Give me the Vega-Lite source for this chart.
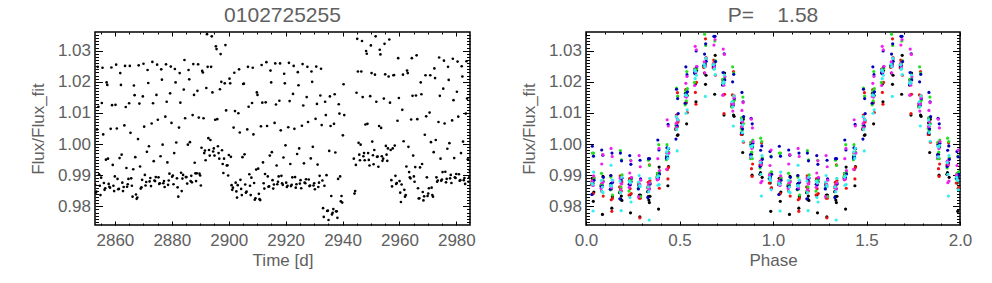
{
"$schema":"https://vega.github.io/schema/vega-lite/v6.json",
"background":"white",
"padding":{"left":28,"top":3,"right":5,"bottom":5},
"spacing":42,
"config":{
"view":{"stroke":"#000","strokeWidth":1.5},
"axis":{"domain":false,"grid":false,"labelFont":"Liberation Sans","labelFontSize":17,"labelColor":"#606060","titleFont":"Liberation Sans","titleFontSize":17,"titleFontWeight":"normal","titleColor":"#606060","tickColor":"#000","tickWidth":1,"labelFlush":false,"labelOverlap":false},
"title":{"font":"Liberation Sans","fontSize":21,"fontWeight":"normal","color":"#606060"}
},
"datasets":{"lc":[
{"t":2853.00,"p":0.030,"f":0.9870,"c":0},{"t":2853.24,"p":0.180,"f":0.9844,"c":0},{"t":2853.48,"p":0.330,"f":0.9847,"c":0},{"t":2853.72,"p":0.480,"f":1.0047,"c":0},{"t":2853.96,"p":0.630,"f":1.0248,"c":0},{"t":2854.20,"p":0.780,"f":1.0120,"c":0},{"t":2854.44,"p":0.930,"f":0.9903,"c":0},{"t":2854.68,"p":0.080,"f":0.9866,"c":1},{"t":2854.92,"p":0.230,"f":0.9836,"c":1},{"t":2855.16,"p":0.380,"f":0.9892,"c":1},{"t":2855.40,"p":0.530,"f":1.0132,"c":1},{"t":2855.64,"p":0.680,"f":1.0245,"c":1},{"t":2855.88,"p":0.830,"f":1.0031,"c":1},{"t":2856.12,"p":0.980,"f":0.9875,"c":1},{"t":2856.36,"p":0.130,"f":0.9853,"c":2},{"t":2856.60,"p":0.280,"f":0.9858,"c":2},{"t":2856.84,"p":0.430,"f":0.9950,"c":2},{"t":2857.08,"p":0.580,"f":1.0198,"c":2},{"t":2857.32,"p":0.730,"f":1.0190,"c":2},{"t":2857.56,"p":0.880,"f":0.9953,"c":2},
{"t":2857.80,"p":0.030,"f":0.9872,"c":1},{"t":2858.04,"p":0.180,"f":0.9863,"c":1},{"t":2858.28,"p":0.330,"f":0.9860,"c":1},{"t":2858.52,"p":0.480,"f":1.0049,"c":1},{"t":2858.76,"p":0.630,"f":1.0246,"c":1},{"t":2859.00,"p":0.780,"f":1.0125,"c":1},{"t":2859.24,"p":0.930,"f":0.9933,"c":1},{"t":2859.48,"p":0.080,"f":0.9866,"c":2},{"t":2859.72,"p":0.230,"f":0.9849,"c":2},{"t":2859.96,"p":0.380,"f":0.9896,"c":2},{"t":2860.20,"p":0.530,"f":1.0126,"c":2},{"t":2860.44,"p":0.680,"f":1.0255,"c":2},{"t":2860.68,"p":0.830,"f":1.0050,"c":2},{"t":2860.92,"p":0.980,"f":0.9888,"c":2},{"t":2861.16,"p":0.130,"f":0.9855,"c":3},{"t":2861.40,"p":0.280,"f":0.9856,"c":3},{"t":2861.64,"p":0.430,"f":0.9955,"c":3},{"t":2861.88,"p":0.580,"f":1.0228,"c":3},{"t":2862.12,"p":0.730,"f":1.0190,"c":3},{"t":2862.36,"p":0.880,"f":0.9966,"c":3},
{"t":2862.60,"p":0.031,"f":0.9876,"c":2},{"t":2862.84,"p":0.181,"f":0.9849,"c":2},{"t":2863.08,"p":0.331,"f":0.9862,"c":2},{"t":2863.32,"p":0.481,"f":1.0060,"c":2},{"t":2863.56,"p":0.631,"f":1.0251,"c":2},{"t":2863.80,"p":0.781,"f":1.0119,"c":2},{"t":2864.04,"p":0.931,"f":0.9923,"c":2},{"t":2864.28,"p":0.081,"f":0.9863,"c":3},{"t":2864.52,"p":0.231,"f":0.9871,"c":3},{"t":2864.76,"p":0.381,"f":0.9888,"c":3},{"t":2865.00,"p":0.531,"f":1.0131,"c":3},{"t":2865.24,"p":0.681,"f":1.0251,"c":3},{"t":2865.48,"p":0.831,"f":1.0036,"c":3},{"t":2865.72,"p":0.981,"f":0.9890,"c":3},{"t":2865.96,"p":0.131,"f":0.9866,"c":4},{"t":2866.20,"p":0.281,"f":0.9831,"c":4},{"t":2866.44,"p":0.431,"f":0.9919,"c":4},{"t":2866.68,"p":0.581,"f":1.0188,"c":4},{"t":2866.92,"p":0.731,"f":1.0157,"c":4},{"t":2867.16,"p":0.881,"f":0.9958,"c":4},
{"t":2867.40,"p":0.031,"f":0.9838,"c":3},{"t":2867.64,"p":0.181,"f":0.9824,"c":3},{"t":2867.88,"p":0.331,"f":0.9828,"c":3},{"t":2868.12,"p":0.481,"f":1.0016,"c":3},{"t":2868.36,"p":0.631,"f":1.0253,"c":3},{"t":2868.60,"p":0.781,"f":1.0130,"c":3},{"t":2868.84,"p":0.931,"f":0.9928,"c":3},{"t":2869.08,"p":0.081,"f":0.9857,"c":4},{"t":2869.32,"p":0.231,"f":0.9861,"c":4},{"t":2869.56,"p":0.381,"f":0.9885,"c":4},{"t":2869.80,"p":0.531,"f":1.0153,"c":4},{"t":2870.04,"p":0.681,"f":1.0258,"c":4},{"t":2870.28,"p":0.831,"f":1.0056,"c":4},{"t":2870.52,"p":0.981,"f":0.9901,"c":4},{"t":2870.76,"p":0.131,"f":0.9867,"c":5},{"t":2871.00,"p":0.281,"f":0.9878,"c":5},{"t":2871.24,"p":0.431,"f":0.9975,"c":5},{"t":2871.48,"p":0.581,"f":1.0238,"c":5},{"t":2871.72,"p":0.731,"f":1.0196,"c":5},{"t":2871.96,"p":0.881,"f":0.9993,"c":5},
{"t":2872.20,"p":0.032,"f":0.9880,"c":4},{"t":2872.44,"p":0.182,"f":0.9891,"c":4},{"t":2872.68,"p":0.332,"f":0.9865,"c":4},{"t":2872.92,"p":0.482,"f":1.0066,"c":4},{"t":2873.16,"p":0.632,"f":1.0264,"c":4},{"t":2873.40,"p":0.782,"f":1.0131,"c":4},{"t":2873.64,"p":0.932,"f":0.9945,"c":4},{"t":2873.88,"p":0.082,"f":0.9883,"c":5},{"t":2874.12,"p":0.232,"f":0.9881,"c":5},{"t":2874.36,"p":0.382,"f":0.9894,"c":5},{"t":2874.60,"p":0.532,"f":1.0158,"c":5},{"t":2874.84,"p":0.682,"f":1.0255,"c":5},{"t":2875.08,"p":0.832,"f":1.0078,"c":5},{"t":2875.32,"p":0.982,"f":0.9893,"c":5},{"t":2875.56,"p":0.132,"f":0.9872,"c":0},{"t":2875.80,"p":0.282,"f":0.9874,"c":0},{"t":2876.04,"p":0.432,"f":0.9961,"c":0},{"t":2876.28,"p":0.582,"f":1.0240,"c":0},{"t":2876.52,"p":0.732,"f":1.0207,"c":0},{"t":2876.76,"p":0.882,"f":0.9998,"c":0},
{"t":2877.00,"p":0.032,"f":0.9874,"c":5},{"t":2877.24,"p":0.182,"f":0.9881,"c":5},{"t":2877.48,"p":0.332,"f":0.9862,"c":5},{"t":2877.72,"p":0.482,"f":1.0088,"c":5},{"t":2877.96,"p":0.632,"f":1.0256,"c":5},{"t":2878.20,"p":0.782,"f":1.0136,"c":5},{"t":2878.44,"p":0.932,"f":0.9941,"c":5},{"t":2878.68,"p":0.082,"f":0.9869,"c":0},{"t":2878.92,"p":0.232,"f":0.9883,"c":0},{"t":2879.16,"p":0.382,"f":0.9905,"c":0},{"t":2879.40,"p":0.532,"f":1.0163,"c":0},{"t":2879.64,"p":0.682,"f":1.0249,"c":0},{"t":2879.88,"p":0.832,"f":1.0068,"c":0},{"t":2880.12,"p":0.982,"f":0.9895,"c":0},{"t":2880.36,"p":0.132,"f":0.9899,"c":1},{"t":2880.60,"p":0.282,"f":0.9871,"c":1},{"t":2880.84,"p":0.432,"f":0.9971,"c":1},{"t":2881.08,"p":0.582,"f":1.0241,"c":1},{"t":2881.32,"p":0.732,"f":1.0198,"c":1},{"t":2881.56,"p":0.882,"f":1.0005,"c":1},
{"t":2881.80,"p":0.033,"f":0.9890,"c":0},{"t":2882.04,"p":0.183,"f":0.9861,"c":0},{"t":2882.28,"p":0.333,"f":0.9831,"c":0},{"t":2882.52,"p":0.483,"f":1.0053,"c":0},{"t":2882.76,"p":0.633,"f":1.0228,"c":0},{"t":2883.00,"p":0.783,"f":1.0133,"c":0},{"t":2883.24,"p":0.933,"f":0.9908,"c":0},{"t":2883.48,"p":0.083,"f":0.9849,"c":1},{"t":2883.72,"p":0.233,"f":0.9889,"c":1},{"t":2883.96,"p":0.383,"f":0.9901,"c":1},{"t":2884.20,"p":0.533,"f":1.0175,"c":1},{"t":2884.44,"p":0.683,"f":1.0270,"c":1},{"t":2884.68,"p":0.833,"f":1.0083,"c":1},{"t":2884.92,"p":0.983,"f":0.9894,"c":1},{"t":2885.16,"p":0.133,"f":0.9894,"c":2},{"t":2885.40,"p":0.283,"f":0.9873,"c":2},{"t":2885.64,"p":0.433,"f":0.9998,"c":2},{"t":2885.88,"p":0.583,"f":1.0238,"c":2},{"t":2886.12,"p":0.733,"f":1.0208,"c":2},{"t":2886.36,"p":0.883,"f":1.0006,"c":2},
{"t":2886.60,"p":0.033,"f":0.9881,"c":1},{"t":2886.84,"p":0.183,"f":0.9898,"c":1},{"t":2887.08,"p":0.333,"f":0.9877,"c":1},{"t":2887.32,"p":0.483,"f":1.0093,"c":1},{"t":2887.56,"p":0.633,"f":1.0257,"c":1},{"t":2887.80,"p":0.783,"f":1.0158,"c":1},{"t":2888.04,"p":0.933,"f":0.9940,"c":1},{"t":2888.28,"p":0.083,"f":0.9906,"c":2},{"t":2888.52,"p":0.233,"f":0.9881,"c":2},{"t":2888.76,"p":0.383,"f":0.9906,"c":2},{"t":2889.00,"p":0.533,"f":1.0171,"c":2},{"t":2889.24,"p":0.683,"f":1.0256,"c":2},{"t":2889.48,"p":0.833,"f":1.0085,"c":2},{"t":2889.72,"p":0.983,"f":0.9905,"c":2},{"t":2889.96,"p":0.133,"f":0.9899,"c":3},{"t":2890.20,"p":0.283,"f":0.9867,"c":3},{"t":2890.44,"p":0.433,"f":0.9988,"c":3},{"t":2890.68,"p":0.583,"f":1.0235,"c":3},{"t":2890.92,"p":0.733,"f":1.0230,"c":3},{"t":2891.16,"p":0.883,"f":1.0083,"c":3},
{"t":2891.40,"p":0.034,"f":0.9971,"c":2},{"t":2891.64,"p":0.184,"f":0.9979,"c":2},{"t":2891.88,"p":0.334,"f":0.9948,"c":2},{"t":2892.12,"p":0.484,"f":1.0180,"c":2},{"t":2892.36,"p":0.634,"f":1.0353,"c":2},{"t":2892.60,"p":0.784,"f":1.0248,"c":2},{"t":2892.84,"p":0.934,"f":1.0019,"c":2},{"t":2893.08,"p":0.084,"f":0.9981,"c":3},{"t":2893.32,"p":0.234,"f":0.9963,"c":3},{"t":2893.56,"p":0.384,"f":1.0013,"c":3},{"t":2893.80,"p":0.534,"f":1.0248,"c":3},{"t":2894.04,"p":0.684,"f":1.0346,"c":3},{"t":2894.28,"p":0.834,"f":1.0166,"c":3},{"t":2894.52,"p":0.984,"f":0.9976,"c":3},{"t":2894.76,"p":0.134,"f":0.9986,"c":4},{"t":2895.00,"p":0.284,"f":0.9963,"c":4},{"t":2895.24,"p":0.434,"f":1.0078,"c":4},{"t":2895.48,"p":0.584,"f":1.0314,"c":4},{"t":2895.72,"p":0.734,"f":1.0305,"c":4},{"t":2895.96,"p":0.884,"f":1.0080,"c":4},
{"t":2896.20,"p":0.034,"f":0.9993,"c":3},{"t":2896.44,"p":0.184,"f":0.9971,"c":3},{"t":2896.68,"p":0.334,"f":0.9953,"c":3},{"t":2896.92,"p":0.484,"f":1.0176,"c":3},{"t":2897.16,"p":0.634,"f":1.0289,"c":3},{"t":2897.40,"p":0.784,"f":1.0200,"c":3},{"t":2897.64,"p":0.934,"f":0.9980,"c":3},{"t":2897.88,"p":0.084,"f":0.9936,"c":4},{"t":2898.12,"p":0.234,"f":0.9907,"c":4},{"t":2898.36,"p":0.384,"f":0.9953,"c":4},{"t":2898.60,"p":0.534,"f":1.0195,"c":4},{"t":2898.84,"p":0.684,"f":1.0318,"c":4},{"t":2899.08,"p":0.834,"f":1.0108,"c":4},{"t":2899.32,"p":0.984,"f":0.9931,"c":4},{"t":2899.56,"p":0.134,"f":0.9932,"c":5},{"t":2899.80,"p":0.284,"f":0.9899,"c":5},{"t":2900.04,"p":0.434,"f":0.9965,"c":5},{"t":2900.28,"p":0.584,"f":1.0210,"c":5},{"t":2900.52,"p":0.734,"f":1.0195,"c":5},{"t":2900.76,"p":0.884,"f":0.9959,"c":5},
{"t":2901.00,"p":0.035,"f":0.9868,"c":4},{"t":2901.24,"p":0.185,"f":0.9853,"c":4},{"t":2901.48,"p":0.335,"f":0.9860,"c":4},{"t":2901.72,"p":0.485,"f":1.0053,"c":4},{"t":2901.96,"p":0.635,"f":1.0229,"c":4},{"t":2902.20,"p":0.785,"f":1.0106,"c":4},{"t":2902.44,"p":0.935,"f":0.9876,"c":4},{"t":2902.68,"p":0.085,"f":0.9848,"c":5},{"t":2902.92,"p":0.235,"f":0.9828,"c":5},{"t":2903.16,"p":0.385,"f":0.9868,"c":5},{"t":2903.40,"p":0.535,"f":1.0099,"c":5},{"t":2903.64,"p":0.685,"f":1.0240,"c":5},{"t":2903.88,"p":0.835,"f":1.0037,"c":5},{"t":2904.12,"p":0.985,"f":0.9885,"c":5},{"t":2904.36,"p":0.135,"f":0.9856,"c":0},{"t":2904.60,"p":0.285,"f":0.9836,"c":0},{"t":2904.84,"p":0.435,"f":0.9958,"c":0},{"t":2905.08,"p":0.585,"f":1.0193,"c":0},{"t":2905.32,"p":0.735,"f":1.0194,"c":0},{"t":2905.56,"p":0.885,"f":0.9967,"c":0},
{"t":2905.80,"p":0.035,"f":0.9870,"c":5},{"t":2906.04,"p":0.185,"f":0.9844,"c":5},{"t":2906.28,"p":0.335,"f":0.9847,"c":5},{"t":2906.52,"p":0.485,"f":1.0047,"c":5},{"t":2906.76,"p":0.635,"f":1.0248,"c":5},{"t":2907.00,"p":0.785,"f":1.0120,"c":5},{"t":2907.24,"p":0.935,"f":0.9903,"c":5},{"t":2907.48,"p":0.085,"f":0.9866,"c":0},{"t":2907.72,"p":0.235,"f":0.9836,"c":0},{"t":2907.96,"p":0.385,"f":0.9892,"c":0},{"t":2908.20,"p":0.535,"f":1.0132,"c":0},{"t":2908.44,"p":0.685,"f":1.0245,"c":0},{"t":2908.68,"p":0.835,"f":1.0031,"c":0},{"t":2908.92,"p":0.985,"f":0.9875,"c":0},{"t":2909.16,"p":0.135,"f":0.9821,"c":1},{"t":2909.40,"p":0.285,"f":0.9826,"c":1},{"t":2909.64,"p":0.435,"f":0.9918,"c":1},{"t":2909.88,"p":0.585,"f":1.0166,"c":1},{"t":2910.12,"p":0.735,"f":1.0158,"c":1},{"t":2910.36,"p":0.885,"f":0.9921,"c":1},
{"t":2910.60,"p":0.036,"f":0.9840,"c":0},{"t":2910.84,"p":0.186,"f":0.9823,"c":0},{"t":2911.08,"p":0.336,"f":0.9820,"c":0},{"t":2911.32,"p":0.486,"f":1.0057,"c":0},{"t":2911.56,"p":0.636,"f":1.0254,"c":0},{"t":2911.80,"p":0.786,"f":1.0133,"c":0},{"t":2912.04,"p":0.936,"f":0.9941,"c":0},{"t":2912.28,"p":0.086,"f":0.9874,"c":1},{"t":2912.52,"p":0.236,"f":0.9857,"c":1},{"t":2912.76,"p":0.386,"f":0.9904,"c":1},{"t":2913.00,"p":0.536,"f":1.0134,"c":1},{"t":2913.24,"p":0.686,"f":1.0263,"c":1},{"t":2913.48,"p":0.836,"f":1.0058,"c":1},{"t":2913.72,"p":0.986,"f":0.9896,"c":1},{"t":2913.96,"p":0.136,"f":0.9863,"c":2},{"t":2914.20,"p":0.286,"f":0.9864,"c":2},{"t":2914.44,"p":0.436,"f":0.9963,"c":2},{"t":2914.68,"p":0.586,"f":1.0236,"c":2},{"t":2914.92,"p":0.736,"f":1.0198,"c":2},{"t":2915.16,"p":0.886,"f":0.9974,"c":2},
{"t":2915.40,"p":0.036,"f":0.9884,"c":1},{"t":2915.64,"p":0.186,"f":0.9857,"c":1},{"t":2915.88,"p":0.336,"f":0.9870,"c":1},{"t":2916.12,"p":0.486,"f":1.0068,"c":1},{"t":2916.36,"p":0.636,"f":1.0259,"c":1},{"t":2916.60,"p":0.786,"f":1.0127,"c":1},{"t":2916.84,"p":0.936,"f":0.9931,"c":1},{"t":2917.08,"p":0.086,"f":0.9871,"c":2},{"t":2917.32,"p":0.236,"f":0.9879,"c":2},{"t":2917.56,"p":0.386,"f":0.9896,"c":2},{"t":2917.80,"p":0.536,"f":1.0139,"c":2},{"t":2918.04,"p":0.686,"f":1.0259,"c":2},{"t":2918.28,"p":0.836,"f":1.0044,"c":2},{"t":2918.52,"p":0.986,"f":0.9898,"c":2},{"t":2918.76,"p":0.136,"f":0.9874,"c":3},{"t":2919.00,"p":0.286,"f":0.9869,"c":3},{"t":2919.24,"p":0.436,"f":0.9957,"c":3},{"t":2919.48,"p":0.586,"f":1.0226,"c":3},{"t":2919.72,"p":0.736,"f":1.0195,"c":3},{"t":2919.96,"p":0.886,"f":0.9996,"c":3},
{"t":2920.20,"p":0.037,"f":0.9876,"c":2},{"t":2920.44,"p":0.187,"f":0.9862,"c":2},{"t":2920.68,"p":0.337,"f":0.9866,"c":2},{"t":2920.92,"p":0.487,"f":1.0054,"c":2},{"t":2921.16,"p":0.637,"f":1.0261,"c":2},{"t":2921.40,"p":0.787,"f":1.0138,"c":2},{"t":2921.64,"p":0.937,"f":0.9936,"c":2},{"t":2921.88,"p":0.087,"f":0.9865,"c":3},{"t":2922.12,"p":0.237,"f":0.9869,"c":3},{"t":2922.36,"p":0.387,"f":0.9893,"c":3},{"t":2922.60,"p":0.537,"f":1.0161,"c":3},{"t":2922.84,"p":0.687,"f":1.0251,"c":3},{"t":2923.08,"p":0.837,"f":1.0049,"c":3},{"t":2923.32,"p":0.987,"f":0.9894,"c":3},{"t":2923.56,"p":0.137,"f":0.9860,"c":4},{"t":2923.80,"p":0.287,"f":0.9871,"c":4},{"t":2924.04,"p":0.437,"f":0.9968,"c":4},{"t":2924.28,"p":0.587,"f":1.0231,"c":4},{"t":2924.52,"p":0.737,"f":1.0189,"c":4},{"t":2924.76,"p":0.887,"f":0.9986,"c":4},
{"t":2925.00,"p":0.037,"f":0.9873,"c":3},{"t":2925.24,"p":0.187,"f":0.9884,"c":3},{"t":2925.48,"p":0.337,"f":0.9858,"c":3},{"t":2925.72,"p":0.487,"f":1.0059,"c":3},{"t":2925.96,"p":0.637,"f":1.0257,"c":3},{"t":2926.20,"p":0.787,"f":1.0124,"c":3},{"t":2926.44,"p":0.937,"f":0.9938,"c":3},{"t":2926.68,"p":0.087,"f":0.9876,"c":4},{"t":2926.92,"p":0.237,"f":0.9874,"c":4},{"t":2927.16,"p":0.387,"f":0.9887,"c":4},{"t":2927.40,"p":0.537,"f":1.0151,"c":4},{"t":2927.64,"p":0.687,"f":1.0248,"c":4},{"t":2927.88,"p":0.837,"f":1.0071,"c":4},{"t":2928.12,"p":0.987,"f":0.9886,"c":4},{"t":2928.36,"p":0.137,"f":0.9865,"c":5},{"t":2928.60,"p":0.287,"f":0.9867,"c":5},{"t":2928.84,"p":0.437,"f":0.9954,"c":5},{"t":2929.08,"p":0.587,"f":1.0233,"c":5},{"t":2929.32,"p":0.737,"f":1.0200,"c":5},{"t":2929.56,"p":0.887,"f":0.9991,"c":5},
{"t":2929.80,"p":0.038,"f":0.9867,"c":4},{"t":2930.04,"p":0.188,"f":0.9874,"c":4},{"t":2930.28,"p":0.338,"f":0.9855,"c":4},{"t":2930.52,"p":0.488,"f":1.0081,"c":4},{"t":2930.76,"p":0.638,"f":1.0249,"c":4},{"t":2931.00,"p":0.788,"f":1.0129,"c":4},{"t":2931.24,"p":0.938,"f":0.9934,"c":4},{"t":2931.48,"p":0.088,"f":0.9862,"c":5},{"t":2931.72,"p":0.238,"f":0.9876,"c":5},{"t":2931.96,"p":0.388,"f":0.9898,"c":5},{"t":2932.20,"p":0.538,"f":1.0156,"c":5},{"t":2932.44,"p":0.688,"f":1.0242,"c":5},{"t":2932.68,"p":0.838,"f":1.0061,"c":5},{"t":2932.92,"p":0.988,"f":0.9883,"c":5},{"t":2933.16,"p":0.138,"f":0.9794,"c":0},{"t":2933.40,"p":0.288,"f":0.9766,"c":0},{"t":2933.64,"p":0.438,"f":0.9866,"c":0},{"t":2933.88,"p":0.588,"f":1.0136,"c":0},{"t":2934.12,"p":0.738,"f":1.0093,"c":0},{"t":2934.36,"p":0.888,"f":0.9900,"c":0},
{"t":2934.60,"p":0.038,"f":0.9785,"c":5},{"t":2934.84,"p":0.188,"f":0.9786,"c":5},{"t":2935.08,"p":0.338,"f":0.9756,"c":5},{"t":2935.32,"p":0.488,"f":0.9978,"c":5},{"t":2935.56,"p":0.638,"f":1.0153,"c":5},{"t":2935.80,"p":0.788,"f":1.0058,"c":5},{"t":2936.04,"p":0.938,"f":0.9833,"c":5},{"t":2936.28,"p":0.088,"f":0.9774,"c":0},{"t":2936.52,"p":0.238,"f":0.9779,"c":0},{"t":2936.76,"p":0.388,"f":0.9791,"c":0},{"t":2937.00,"p":0.538,"f":1.0065,"c":0},{"t":2937.24,"p":0.688,"f":1.0160,"c":0},{"t":2937.48,"p":0.838,"f":0.9973,"c":0},{"t":2937.72,"p":0.988,"f":0.9784,"c":0},{"t":2937.96,"p":0.138,"f":0.9784,"c":1},{"t":2938.20,"p":0.288,"f":0.9763,"c":1},{"t":2938.44,"p":0.438,"f":0.9888,"c":1},{"t":2938.68,"p":0.588,"f":1.0128,"c":1},{"t":2938.92,"p":0.738,"f":1.0098,"c":1},{"t":2939.16,"p":0.888,"f":0.9896,"c":1},
{"t":2939.40,"p":0.039,"f":0.9816,"c":0},{"t":2939.64,"p":0.189,"f":0.9833,"c":0},{"t":2939.88,"p":0.339,"f":0.9812,"c":0},{"t":2940.12,"p":0.489,"f":1.0028,"c":0},{"t":2940.36,"p":0.639,"f":1.0192,"c":0},{"t":2940.60,"p":0.789,"f":1.0093,"c":0},
{"t":2943.96,"p":0.889,"f":0.9953,"c":2},
{"t":2944.20,"p":0.039,"f":0.9841,"c":1},{"t":2944.44,"p":0.189,"f":0.9849,"c":1},{"t":2944.68,"p":0.339,"f":0.9933,"c":1},{"t":2944.92,"p":0.489,"f":1.0165,"c":1},{"t":2945.16,"p":0.639,"f":1.0338,"c":1},{"t":2945.40,"p":0.789,"f":1.0233,"c":1},{"t":2945.64,"p":0.939,"f":1.0004,"c":1},{"t":2945.88,"p":0.089,"f":0.9966,"c":2},{"t":2946.12,"p":0.239,"f":0.9948,"c":2},{"t":2946.36,"p":0.389,"f":0.9998,"c":2},{"t":2946.60,"p":0.539,"f":1.0233,"c":2},{"t":2946.84,"p":0.689,"f":1.0331,"c":2},{"t":2947.08,"p":0.839,"f":1.0151,"c":2},{"t":2947.32,"p":0.989,"f":0.9961,"c":2},{"t":2947.56,"p":0.139,"f":0.9971,"c":3},{"t":2947.80,"p":0.289,"f":0.9948,"c":3},{"t":2948.04,"p":0.439,"f":1.0063,"c":3},{"t":2948.28,"p":0.589,"f":1.0299,"c":3},{"t":2948.52,"p":0.739,"f":1.0290,"c":3},{"t":2948.76,"p":0.889,"f":1.0065,"c":3},
{"t":2949.00,"p":0.040,"f":0.9971,"c":2},{"t":2949.24,"p":0.190,"f":0.9949,"c":2},{"t":2949.48,"p":0.340,"f":0.9931,"c":2},{"t":2949.72,"p":0.490,"f":1.0154,"c":2},{"t":2949.96,"p":0.640,"f":1.0317,"c":2},{"t":2950.20,"p":0.790,"f":1.0228,"c":2},{"t":2950.44,"p":0.940,"f":1.0008,"c":2},{"t":2950.68,"p":0.090,"f":0.9964,"c":3},{"t":2950.92,"p":0.240,"f":0.9935,"c":3},{"t":2951.16,"p":0.390,"f":0.9981,"c":3},{"t":2951.40,"p":0.540,"f":1.0223,"c":3},{"t":2951.64,"p":0.690,"f":1.0346,"c":3},{"t":2951.88,"p":0.840,"f":1.0136,"c":3},{"t":2952.12,"p":0.990,"f":0.9959,"c":3},{"t":2952.36,"p":0.140,"f":0.9960,"c":4},{"t":2952.60,"p":0.290,"f":0.9927,"c":4},{"t":2952.84,"p":0.440,"f":1.0058,"c":4},{"t":2953.08,"p":0.590,"f":1.0303,"c":4},{"t":2953.32,"p":0.740,"f":1.0288,"c":4},{"t":2953.56,"p":0.890,"f":1.0052,"c":4},
{"t":2953.80,"p":0.040,"f":0.9961,"c":3},{"t":2954.04,"p":0.190,"f":0.9946,"c":3},{"t":2954.28,"p":0.340,"f":0.9953,"c":3},{"t":2954.52,"p":0.490,"f":1.0146,"c":3},{"t":2954.76,"p":0.640,"f":1.0322,"c":3},{"t":2955.00,"p":0.790,"f":1.0224,"c":3},{"t":2955.24,"p":0.940,"f":0.9994,"c":3},{"t":2955.48,"p":0.090,"f":0.9966,"c":4},{"t":2955.72,"p":0.240,"f":0.9946,"c":4},{"t":2955.96,"p":0.390,"f":0.9986,"c":4},{"t":2956.20,"p":0.540,"f":1.0217,"c":4},{"t":2956.44,"p":0.690,"f":1.0336,"c":4},{"t":2956.68,"p":0.840,"f":1.0133,"c":4},{"t":2956.92,"p":0.990,"f":0.9981,"c":4},{"t":2957.16,"p":0.140,"f":0.9884,"c":5},{"t":2957.40,"p":0.290,"f":0.9864,"c":5},{"t":2957.64,"p":0.440,"f":0.9986,"c":5},{"t":2957.88,"p":0.590,"f":1.0221,"c":5},{"t":2958.12,"p":0.740,"f":1.0222,"c":5},{"t":2958.36,"p":0.890,"f":0.9995,"c":5},
{"t":2958.60,"p":0.041,"f":0.9898,"c":4},{"t":2958.84,"p":0.191,"f":0.9872,"c":4},{"t":2959.08,"p":0.341,"f":0.9875,"c":4},{"t":2959.32,"p":0.491,"f":1.0075,"c":4},{"t":2959.56,"p":0.641,"f":1.0276,"c":4},{"t":2959.80,"p":0.791,"f":1.0148,"c":4},{"t":2960.04,"p":0.941,"f":0.9881,"c":4},{"t":2960.28,"p":0.091,"f":0.9844,"c":5},{"t":2960.52,"p":0.241,"f":0.9814,"c":5},{"t":2960.76,"p":0.391,"f":0.9870,"c":5},{"t":2961.00,"p":0.541,"f":1.0110,"c":5},{"t":2961.24,"p":0.691,"f":1.0223,"c":5},{"t":2961.48,"p":0.841,"f":1.0009,"c":5},{"t":2961.72,"p":0.991,"f":0.9853,"c":5},{"t":2961.96,"p":0.141,"f":0.9831,"c":0},{"t":2962.20,"p":0.291,"f":0.9836,"c":0},{"t":2962.44,"p":0.441,"f":0.9928,"c":0},{"t":2962.68,"p":0.591,"f":1.0236,"c":0},{"t":2962.92,"p":0.741,"f":1.0228,"c":0},{"t":2963.16,"p":0.891,"f":0.9991,"c":0},
{"t":2963.40,"p":0.041,"f":0.9910,"c":5},{"t":2963.64,"p":0.191,"f":0.9893,"c":5},{"t":2963.88,"p":0.341,"f":0.9890,"c":5},{"t":2964.12,"p":0.491,"f":1.0079,"c":5},{"t":2964.36,"p":0.641,"f":1.0276,"c":5},{"t":2964.60,"p":0.791,"f":1.0155,"c":5},{"t":2964.84,"p":0.941,"f":0.9963,"c":5},{"t":2965.08,"p":0.091,"f":0.9896,"c":0},{"t":2965.32,"p":0.241,"f":0.9879,"c":0},{"t":2965.56,"p":0.391,"f":0.9926,"c":0},{"t":2965.80,"p":0.541,"f":1.0156,"c":0},{"t":2966.04,"p":0.691,"f":1.0285,"c":0},{"t":2966.28,"p":0.841,"f":1.0080,"c":0},{"t":2966.52,"p":0.991,"f":0.9858,"c":0},{"t":2966.76,"p":0.141,"f":0.9825,"c":1},{"t":2967.00,"p":0.291,"f":0.9826,"c":1},{"t":2967.24,"p":0.441,"f":0.9925,"c":1},{"t":2967.48,"p":0.591,"f":1.0198,"c":1},{"t":2967.72,"p":0.741,"f":1.0160,"c":1},{"t":2967.96,"p":0.891,"f":0.9936,"c":1},
{"t":2968.20,"p":0.042,"f":0.9846,"c":0},{"t":2968.44,"p":0.192,"f":0.9819,"c":0},{"t":2968.68,"p":0.342,"f":0.9832,"c":0},{"t":2968.92,"p":0.492,"f":1.0030,"c":0},{"t":2969.16,"p":0.642,"f":1.0221,"c":0},{"t":2969.40,"p":0.792,"f":1.0089,"c":0},{"t":2969.64,"p":0.942,"f":0.9893,"c":0},{"t":2969.88,"p":0.092,"f":0.9833,"c":1},{"t":2970.12,"p":0.242,"f":0.9841,"c":1},{"t":2970.36,"p":0.392,"f":0.9858,"c":1},{"t":2970.60,"p":0.542,"f":1.0101,"c":1},{"t":2970.84,"p":0.692,"f":1.0221,"c":1},{"t":2971.08,"p":0.842,"f":1.0006,"c":1},{"t":2971.32,"p":0.992,"f":0.9860,"c":1},{"t":2971.56,"p":0.142,"f":0.9836,"c":2},{"t":2971.80,"p":0.292,"f":0.9831,"c":2},{"t":2972.04,"p":0.442,"f":0.9974,"c":2},{"t":2972.28,"p":0.592,"f":1.0243,"c":2},{"t":2972.52,"p":0.742,"f":1.0212,"c":2},{"t":2972.76,"p":0.892,"f":1.0013,"c":2},
{"t":2973.00,"p":0.042,"f":0.9893,"c":1},{"t":2973.24,"p":0.192,"f":0.9879,"c":1},{"t":2973.48,"p":0.342,"f":0.9883,"c":1},{"t":2973.72,"p":0.492,"f":1.0071,"c":1},{"t":2973.96,"p":0.642,"f":1.0278,"c":1},{"t":2974.20,"p":0.792,"f":1.0155,"c":1},{"t":2974.44,"p":0.942,"f":0.9953,"c":1},{"t":2974.68,"p":0.092,"f":0.9882,"c":2},{"t":2974.92,"p":0.242,"f":0.9886,"c":2},{"t":2975.16,"p":0.392,"f":0.9910,"c":2},{"t":2975.40,"p":0.542,"f":1.0178,"c":2},{"t":2975.64,"p":0.692,"f":1.0268,"c":2},{"t":2975.88,"p":0.842,"f":1.0066,"c":2},{"t":2976.12,"p":0.992,"f":0.9911,"c":2},{"t":2976.36,"p":0.142,"f":0.9877,"c":3},{"t":2976.60,"p":0.292,"f":0.9888,"c":3},{"t":2976.84,"p":0.442,"f":0.9985,"c":3},{"t":2977.08,"p":0.592,"f":1.0248,"c":3},{"t":2977.32,"p":0.742,"f":1.0206,"c":3},{"t":2977.56,"p":0.892,"f":1.0003,"c":3},
{"t":2977.80,"p":0.043,"f":0.9890,"c":2},{"t":2978.04,"p":0.193,"f":0.9901,"c":2},{"t":2978.28,"p":0.343,"f":0.9875,"c":2},{"t":2978.52,"p":0.493,"f":1.0076,"c":2},{"t":2978.76,"p":0.643,"f":1.0274,"c":2},{"t":2979.00,"p":0.793,"f":1.0141,"c":2},{"t":2979.24,"p":0.943,"f":0.9955,"c":2},{"t":2979.48,"p":0.093,"f":0.9893,"c":3},{"t":2979.72,"p":0.243,"f":0.9891,"c":3},{"t":2979.96,"p":0.393,"f":0.9904,"c":3},{"t":2980.20,"p":0.543,"f":1.0168,"c":3},{"t":2980.44,"p":0.693,"f":1.0265,"c":3},{"t":2980.68,"p":0.843,"f":1.0088,"c":3},{"t":2980.92,"p":0.993,"f":0.9903,"c":3},{"t":2981.16,"p":0.143,"f":0.9882,"c":4},{"t":2981.40,"p":0.293,"f":0.9884,"c":4},{"t":2981.64,"p":0.443,"f":0.9971,"c":4},{"t":2981.88,"p":0.593,"f":1.0250,"c":4},{"t":2982.12,"p":0.743,"f":1.0217,"c":4},{"t":2982.36,"p":0.893,"f":1.0008,"c":4},
{"t":2982.60,"p":0.043,"f":0.9884,"c":3},{"t":2982.84,"p":0.193,"f":0.9891,"c":3},{"t":2983.08,"p":0.343,"f":0.9872,"c":3},{"t":2983.32,"p":0.493,"f":1.0098,"c":3},{"t":2983.56,"p":0.643,"f":1.0266,"c":3},{"t":2983.80,"p":0.793,"f":1.0146,"c":3},{"t":2984.04,"p":0.943,"f":0.9951,"c":3},{"t":2984.28,"p":0.093,"f":0.9879,"c":4},{"t":2984.52,"p":0.243,"f":0.9893,"c":4},{"t":2984.76,"p":0.393,"f":0.9915,"c":4}
]},
"hconcat":[
{
"width":375,"height":193,
"title":{"text":"0102725255","offset":6},
"data":{"name":"lc"},
"layer":[
{"mark":{"type":"point","filled":true,"size":7,"color":"#000","opacity":1,"clip":true},
"encoding":{
"x":{"field":"t","type":"quantitative","scale":{"domain":[2853,2984.8],"nice":false,"zero":false},"axis":{"orient":"bottom","values":[2860,2880,2900,2920,2940,2960,2980],"format":"d","tickSize":-4,"labelPadding":11,"title":"Time [d]","titlePadding":4}},
"y":{"field":"f","type":"quantitative","scale":{"domain":[0.974,1.036],"nice":false,"zero":false},"axis":{"orient":"left","values":[0.98,0.99,1.0,1.01,1.02,1.03],"format":".2f","tickSize":-7.5,"labelPadding":12,"title":"Flux/Flux_fit","titlePadding":10}}
}},
{"data":{"values":[]},"mark":"point",
"encoding":{
"x":{"field":"t","type":"quantitative","scale":{"domain":[2853,2984.8],"nice":false,"zero":false},"axis":{"orient":"top","values":[2860,2880,2900,2920,2940,2960,2980],"labels":false,"tickSize":-4,"title":null}},
"y":{"field":"f","type":"quantitative","scale":{"domain":[0.974,1.036],"nice":false,"zero":false},"axis":{"orient":"right","values":[0.98,0.99,1.0,1.01,1.02,1.03],"labels":false,"tickSize":-7.5,"title":null}}
}},
{"data":{"values":[]},"mark":"point",
"encoding":{
"x":{"field":"t","type":"quantitative","scale":{"domain":[2853,2984.8],"nice":false,"zero":false},"axis":{"orient":"bottom","values":[2855,2865,2870,2875,2885,2890,2895,2905,2910,2915,2925,2930,2935,2945,2950,2955,2965,2970,2975],"labels":false,"tickSize":-2,"title":null}},
"y":{"field":"f","type":"quantitative","scale":{"domain":[0.974,1.036],"nice":false,"zero":false},"axis":{"orient":"left","values":[0.975,0.976,0.977,0.978,0.979,0.981,0.982,0.983,0.984,0.985,0.986,0.987,0.988,0.989,0.991,0.992,0.993,0.994,0.995,0.996,0.997,0.998,0.999,1.001,1.002,1.003,1.004,1.005,1.006,1.007,1.008,1.009,1.011,1.012,1.013,1.014,1.015,1.016,1.017,1.018,1.019,1.021,1.022,1.023,1.024,1.025,1.026,1.027,1.028,1.029,1.031,1.032,1.033,1.034,1.035],"labels":false,"tickSize":-3.5,"title":null}}
}},
{"data":{"values":[]},"mark":"point",
"encoding":{
"x":{"field":"t","type":"quantitative","scale":{"domain":[2853,2984.8],"nice":false,"zero":false},"axis":{"orient":"top","values":[2855,2865,2870,2875,2885,2890,2895,2905,2910,2915,2925,2930,2935,2945,2950,2955,2965,2970,2975],"labels":false,"tickSize":-2,"title":null}},
"y":{"field":"f","type":"quantitative","scale":{"domain":[0.974,1.036],"nice":false,"zero":false},"axis":{"orient":"right","values":[0.975,0.976,0.977,0.978,0.979,0.981,0.982,0.983,0.984,0.985,0.986,0.987,0.988,0.989,0.991,0.992,0.993,0.994,0.995,0.996,0.997,0.998,0.999,1.001,1.002,1.003,1.004,1.005,1.006,1.007,1.008,1.009,1.011,1.012,1.013,1.014,1.015,1.016,1.017,1.018,1.019,1.021,1.022,1.023,1.024,1.025,1.026,1.027,1.028,1.029,1.031,1.032,1.033,1.034,1.035],"labels":false,"tickSize":-3.5,"title":null}}
}}
],
"resolve":{"axis":{"x":"independent","y":"independent"}}
},
{
"width":374,"height":193,
"title":{"text":"P=\u00a0\u00a0\u00a0\u00a01.58","offset":6},
"data":{"name":"lc"},
"layer":[
{"mark":{"type":"point","filled":true,"size":10,"opacity":1,"clip":true},
"encoding":{
"x":{"field":"p","type":"quantitative","scale":{"domain":[0,2],"nice":false,"zero":false},"axis":{"orient":"bottom","values":[0,0.5,1,1.5,2],"format":".1f","tickSize":-4,"labelPadding":11,"title":"Phase","titlePadding":4}},
"y":{"field":"f","type":"quantitative","scale":{"domain":[0.974,1.036],"nice":false,"zero":false},"axis":{"orient":"left","values":[0.98,0.99,1.0,1.01,1.02,1.03],"format":".2f","tickSize":-7.5,"labelPadding":12,"title":"Flux/Flux_fit","titlePadding":10}},
"color":{"field":"c","type":"nominal","scale":{"domain":[0,1,2,3,4,5],"range":["#000000","#ee1111","#22dd22","#0000bb","#ee22ee","#33eeee"]},"legend":null},
"order":{"field":"c","type":"quantitative"}
}},
{"mark":{"type":"point","filled":true,"size":10,"opacity":1,"clip":true},
"encoding":{
"x":{"field":"p","type":"quantitative","scale":{"domain":[-1,1],"nice":false,"zero":false},"axis":null},
"y":{"field":"f","type":"quantitative","scale":{"domain":[0.974,1.036],"nice":false,"zero":false},"axis":null},
"color":{"field":"c","type":"nominal","scale":{"domain":[0,1,2,3,4,5],"range":["#000000","#ee1111","#22dd22","#0000bb","#ee22ee","#33eeee"]},"legend":null},
"order":{"field":"c","type":"quantitative"}
}},
{"data":{"values":[]},"mark":"point",
"encoding":{
"x":{"field":"p","type":"quantitative","scale":{"domain":[0,2],"nice":false,"zero":false},"axis":{"orient":"top","values":[0,0.5,1,1.5,2],"labels":false,"tickSize":-4,"title":null}},
"y":{"field":"f","type":"quantitative","scale":{"domain":[0.974,1.036],"nice":false,"zero":false},"axis":{"orient":"right","values":[0.98,0.99,1.0,1.01,1.02,1.03],"labels":false,"tickSize":-7.5,"title":null}}
}},
{"data":{"values":[]},"mark":"point",
"encoding":{
"x":{"field":"p","type":"quantitative","scale":{"domain":[0,2],"nice":false,"zero":false},"axis":{"orient":"bottom","values":[0.1,0.2,0.3,0.4,0.6,0.7,0.8,0.9,1.1,1.2,1.3,1.4,1.6,1.7,1.8,1.9],"labels":false,"tickSize":-2,"title":null}},
"y":{"field":"f","type":"quantitative","scale":{"domain":[0.974,1.036],"nice":false,"zero":false},"axis":{"orient":"left","values":[0.975,0.976,0.977,0.978,0.979,0.981,0.982,0.983,0.984,0.985,0.986,0.987,0.988,0.989,0.991,0.992,0.993,0.994,0.995,0.996,0.997,0.998,0.999,1.001,1.002,1.003,1.004,1.005,1.006,1.007,1.008,1.009,1.011,1.012,1.013,1.014,1.015,1.016,1.017,1.018,1.019,1.021,1.022,1.023,1.024,1.025,1.026,1.027,1.028,1.029,1.031,1.032,1.033,1.034,1.035],"labels":false,"tickSize":-3.5,"title":null}}
}},
{"data":{"values":[]},"mark":"point",
"encoding":{
"x":{"field":"p","type":"quantitative","scale":{"domain":[0,2],"nice":false,"zero":false},"axis":{"orient":"top","values":[0.1,0.2,0.3,0.4,0.6,0.7,0.8,0.9,1.1,1.2,1.3,1.4,1.6,1.7,1.8,1.9],"labels":false,"tickSize":-2,"title":null}},
"y":{"field":"f","type":"quantitative","scale":{"domain":[0.974,1.036],"nice":false,"zero":false},"axis":{"orient":"right","values":[0.975,0.976,0.977,0.978,0.979,0.981,0.982,0.983,0.984,0.985,0.986,0.987,0.988,0.989,0.991,0.992,0.993,0.994,0.995,0.996,0.997,0.998,0.999,1.001,1.002,1.003,1.004,1.005,1.006,1.007,1.008,1.009,1.011,1.012,1.013,1.014,1.015,1.016,1.017,1.018,1.019,1.021,1.022,1.023,1.024,1.025,1.026,1.027,1.028,1.029,1.031,1.032,1.033,1.034,1.035],"labels":false,"tickSize":-3.5,"title":null}}
}}
],
"resolve":{"scale":{"x":"independent"},"axis":{"x":"independent","y":"independent"}}
}
]
}
